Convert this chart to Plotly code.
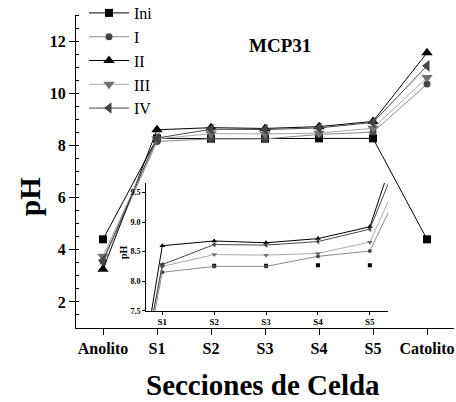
import plotly.graph_objects as go

categories = ["Anolito", "S1", "S2", "S3", "S4", "S5", "Catolito"]
inset_categories = ["S1", "S2", "S3", "S4", "S5"]

ph_ini = [4.4, 8.27, 8.26, 8.26, 8.27, 8.27, 4.4]
ph_i = [3.55, 8.15, 8.25, 8.25, 8.42, 8.51, 10.35]
ph_ii = [3.25, 8.6, 8.68, 8.65, 8.72, 8.92, 11.55]
ph_iii = [3.75, 8.25, 8.45, 8.44, 8.47, 8.66, 10.6]
ph_iv = [3.6, 8.28, 8.62, 8.61, 8.67, 8.88, 11.05]

series_names = ["Ini", "I", "II", "III", "IV"]
series_values = [ph_ini, ph_i, ph_ii, ph_iii, ph_iv]
symbols = ["square", "circle", "triangle-up", "triangle-down", "triangle-left"]
line_colors = ["#000000", "#8a8a8a", "#000000", "#a8a8a8", "#4a4a4a"]
marker_colors = ["#000000", "#444444", "#000000", "#707070", "#444444"]
marker_sizes = [8, 7, 10, 10, 10]
inset_sizes = [4, 4, 5, 5, 5]

FONT = "Liberation Serif"

fig = go.Figure()

for name, vals, sym, lc, mc, ms in zip(series_names, series_values, symbols,
                                       line_colors, marker_colors, marker_sizes):
    fig.add_trace(go.Scatter(
        x=categories, y=vals, name=name, mode="lines+markers",
        line=dict(color=lc, width=1),
        marker=dict(symbol=sym, size=ms, color=mc),
        xaxis="x", yaxis="y", showlegend=True, cliponaxis=False,
    ))

for name, vals, sym, lc, mc, ms in zip(series_names, series_values, symbols,
                                       line_colors, marker_colors, inset_sizes):
    mode = "markers" if name == "Ini" else "lines+markers"
    fig.add_trace(go.Scatter(
        x=categories, y=vals, name=name, mode=mode,
        line=dict(color=lc, width=1),
        marker=dict(symbol=sym, size=ms, color=mc),
        xaxis="x2", yaxis="y2", showlegend=False, cliponaxis=True,
    ))

fig.update_layout(
    width=456, height=402,
    margin=dict(l=76, r=2, t=15, b=74, autoexpand=False),
    paper_bgcolor="white", plot_bgcolor="white",
    font=dict(family=FONT, color="black"),
    showlegend=True,
    legend=dict(
        xref="paper", yref="paper",
        x=(84 - 76) / 378, y=(328 + 4) / 313, xanchor="left", yanchor="top",
        font=dict(family=FONT, size=16, color="black"),
        bgcolor="rgba(0,0,0,0)", tracegroupgap=0,
        itemwidth=40,
    ),
    xaxis=dict(
        type="category", categoryorder="array", categoryarray=categories,
        range=[-0.5, 6.5], domain=[0, 1],
        showline=True, linecolor="black", linewidth=1, mirror=False,
        ticks="outside", ticklen=6, tickcolor="black", tickangle=0,
        tickfont=dict(family=FONT, size=16, color="black", weight="bold"),
        showgrid=False, zeroline=False,
    ),
    yaxis=dict(
        range=[1, 13], domain=[0, 1],
        tickvals=[2, 4, 6, 8, 10, 12],
        showline=True, linecolor="black", linewidth=1, mirror=False,
        ticks="outside", ticklen=6, tickcolor="black",
        tickfont=dict(family=FONT, size=16, color="black", weight="bold"),
        minor=dict(ticks="inside", ticklen=3, dtick=0.5, tickcolor="black", showgrid=False),
        showgrid=False, zeroline=False,
    ),
    xaxis2=dict(
        type="category", categoryorder="array", categoryarray=categories,
        range=[0.686, 5.35], domain=[0.1852, 0.8254], anchor="y2",
        tickvals=inset_categories, tickangle=0,
        showline=True, linecolor="black", linewidth=1, mirror=False,
        ticks="outside", ticklen=3, tickcolor="black",
        tickfont=dict(family=FONT, size=9, color="black", weight="bold"),
        showgrid=False, zeroline=False,
    ),
    yaxis2=dict(
        range=[7.5, 9.66], domain=[0.0553, 0.463], anchor="x2",
        tickvals=[7.5, 8.0, 8.5, 9.0, 9.5], ticktext=["7.5", "8.0", "8.5", "9.0", "9.5"],
        showline=True, linecolor="black", linewidth=1, mirror=False,
        ticks="outside", ticklen=3, tickcolor="black",
        tickfont=dict(family=FONT, size=8, color="black", weight="bold"),
        showgrid=False, zeroline=False,
    ),
    annotations=[
        dict(text="pH", xref="paper", yref="paper", x=(30 - 76) / 378, y=(328 - 197) / 313,
             textangle=-90, showarrow=False, xanchor="center", yanchor="middle",
             font=dict(family=FONT, size=29, color="black", weight="bold")),
        dict(text="Secciones de Celda", xref="paper", yref="paper",
             x=(263 - 76) / 378, y=(328 - 385) / 313,
             showarrow=False, xanchor="center", yanchor="middle",
             font=dict(family=FONT, size=29, color="black", weight="bold")),
        dict(text="MCP31", xref="paper", yref="paper",
             x=(280 - 76) / 378, y=(328 - 45) / 313,
             showarrow=False, xanchor="center", yanchor="middle",
             font=dict(family=FONT, size=19, color="black", weight="bold")),
        dict(text="pH", xref="paper", yref="paper",
             x=(123 - 76) / 378, y=(328 - 252) / 313,
             textangle=-90, showarrow=False, xanchor="center", yanchor="middle",
             font=dict(family=FONT, size=10, color="black", weight="bold")),
    ],
)

fig.write_html("out.html", config={"displayModeBar": False},
               post_script="document.body.style.margin='0';")
